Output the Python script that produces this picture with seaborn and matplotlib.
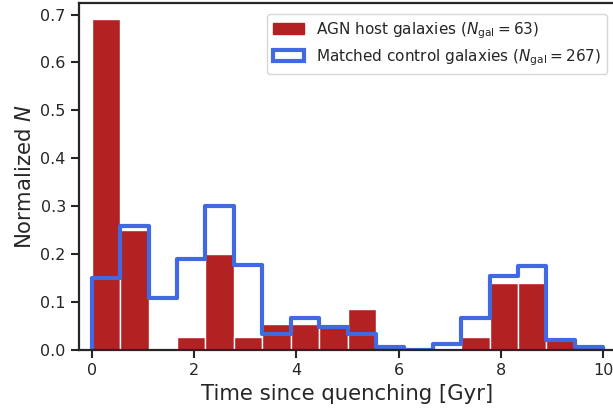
import numpy as np
import pandas as pd
import seaborn as sns
import matplotlib.pyplot as plt
from matplotlib.patches import Patch

# === 1. Data ===
n_bins = 18
t_range = (0, 10)
agn_heights = [0.69, 0.25, 0.0, 0.027, 0.2, 0.027, 0.055, 0.055, 0.055,
               0.085, 0.0, 0.0, 0.0, 0.027, 0.14, 0.14, 0.027, 0.0]
control_heights = [0.15, 0.258, 0.108, 0.19, 0.30, 0.177, 0.033, 0.066, 0.049,
                   0.034, 0.007, 0.0, 0.012, 0.067, 0.155, 0.176, 0.020, 0.007]
agn_label = r"AGN host galaxies ($N_{\rm gal} = 63$)"
control_label = r"Matched control galaxies ($N_{\rm gal} = 267$)"

bin_edges = np.linspace(t_range[0], t_range[1], n_bins + 1)
bin_centers = 0.5 * (bin_edges[:-1] + bin_edges[1:])
df_agn = pd.DataFrame({"t": bin_centers, "w": agn_heights})

# === 2. Plot ===
sns.set_style("ticks")
plt.rcParams["font.family"] = ["DejaVu Sans"]

fig = plt.figure(figsize=(6.13, 4.09), dpi=100)
ax = fig.add_axes([79 / 613, 59 / 409, 536 / 613, 347 / 409])

sns.histplot(data=df_agn, x="t", weights="w", bins=n_bins, binrange=t_range,
             stat="count", element="bars", color="firebrick", alpha=1,
             edgecolor="white", linewidth=1, ax=ax)

# control galaxies as open step outline
step_x = np.concatenate([[bin_edges[0]], np.repeat(bin_edges, 2)[1:-1], [bin_edges[-1]]])
step_y = np.concatenate([[0], np.repeat(control_heights, 2), [0]])
sns.lineplot(x=step_x, y=step_y, sort=False, estimator=None, color="royalblue",
             linewidth=3, ax=ax)

# === 3. Customize ===
ax.set_xlim(-0.25, 10.23)
ax.set_ylim(0, 0.724)
ax.set_xticks([0, 2, 4, 6, 8, 10])
ax.set_yticks(np.arange(0, 0.71, 0.1))
ax.set_xlabel("Time since quenching [Gyr]", fontsize=15.3)
ax.set_ylabel(r"Normalized $N$", fontsize=15.3)
ax.tick_params(labelsize=11.5, length=6, width=1.5, direction="out")
for s in ax.spines.values():
    s.set_linewidth(1.6)

handles = [Patch(facecolor="firebrick", edgecolor="firebrick"),
           Patch(facecolor="white", edgecolor="royalblue", linewidth=3)]
ax.legend(handles, [agn_label, control_label], loc="upper right",
          fontsize=11, frameon=True, labelspacing=0.4,
          bbox_to_anchor=(1.0, 0.99))

# === 4. Save ===
plt.savefig("out.png", dpi=100)
